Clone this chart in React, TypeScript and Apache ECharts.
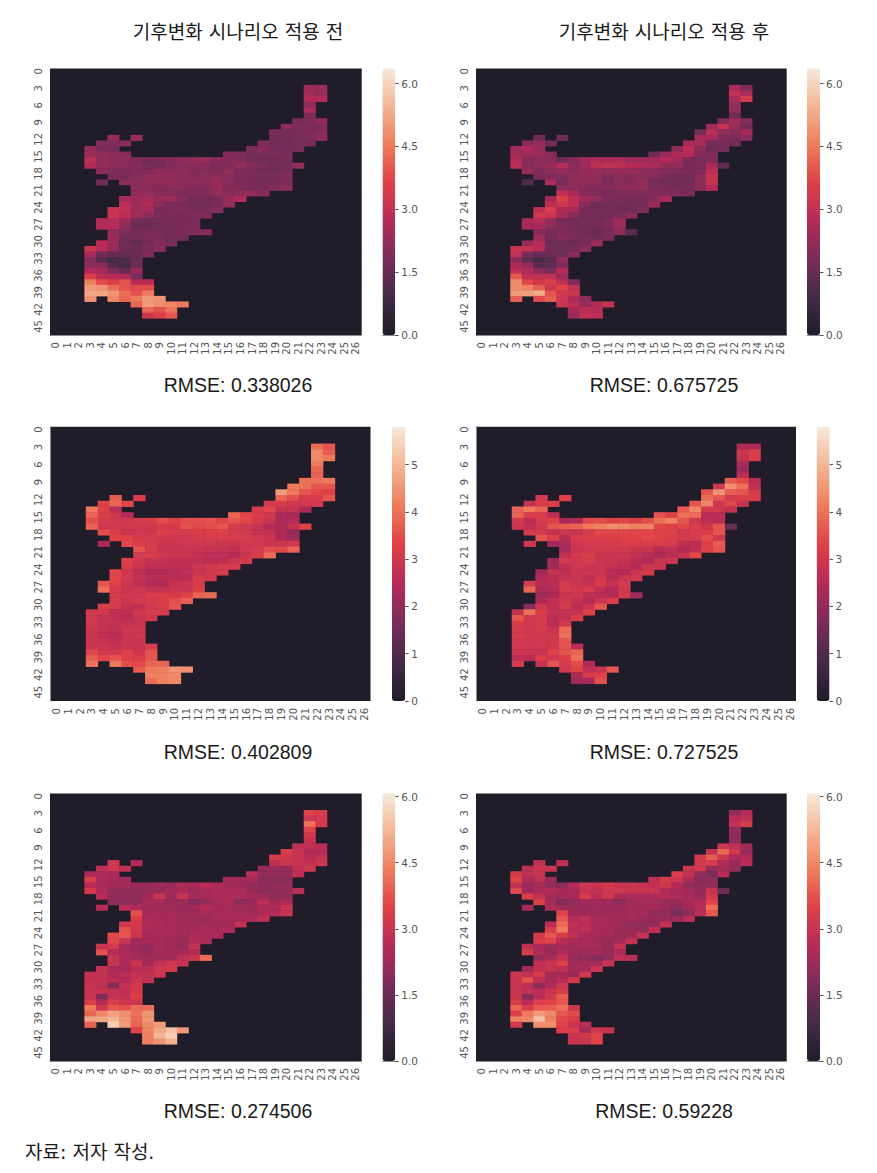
import React, { useEffect, useRef } from "react";
import * as echarts from "echarts";

const X_LABELS = Array.from({ length: 27 }, (_, i) => String(i));
const Y_LABELS = Array.from({ length: 47 }, (_, i) => String(i));
const CELL_ROWS = Array.from({ length: 48 }, (_, i) => String(i));
const FIRST_ROW = 3;

// Column spans of the mapped area for rows 3..44
const ROW_SPANS: number[][][] = [
  [[22, 23]], [[22, 23]], [[22, 23]], [[22, 22]], [[22, 22]], [[22, 22]],
  [[21, 23]], [[20, 23]], [[19, 23]],
  [[5, 5], [7, 7], [19, 23]],
  [[4, 6], [18, 22]],
  [[3, 5], [17, 21]],
  [[3, 6], [15, 20]],
  [[3, 20]], [[3, 21]], [[4, 20]], [[5, 20]],
  [[4, 4], [6, 20]],
  [[7, 20]], [[7, 18]], [[6, 16]], [[6, 15]], [[5, 14]], [[5, 13]], [[4, 12]], [[4, 12]], [[5, 13]], [[5, 11]], [[4, 10]], [[3, 9]], [[3, 8]],
  [[3, 7]], [[3, 7]], [[3, 7]], [[3, 7]],
  [[3, 8]], [[3, 8]], [[3, 8]],
  [[3, 3], [5, 9]],
  [[7, 11]], [[8, 10]], [[8, 10]],
];

const BEFORE_A: number[][] = [
  [2.4,2.3],[2.5,2.3],[2.7,2.7],[2.1],[2.6],[1.9],[1.8,1.9,2.2],[2.1,1.9,1.9,1.9],[1.8,1.7,1.8,1.9,2.0],
  [2.3,2.3,1.6,1.7,1.8,1.9,2.1],[1.9,1.9,2.0,1.9,1.7,1.7,1.8,1.8],[2.2,1.8,1.8,1.9,2.0,1.8,1.8,1.8],
  [2.3,2.2,2.1,2.0,2.0,1.9,1.7,1.8,1.8,1.8],
  [2.9,2.2,2.1,2.1,1.9,1.7,1.8,2.0,2.1,2.2,2.3,2.0,2.0,1.9,1.7,1.7,1.7,1.8],
  [2.7,2.2,2.1,2.0,2.0,1.8,1.8,2.0,2.0,2.0,2.0,1.9,2.0,2.2,2.0,1.8,1.7,1.7,2.2],
  [2.1,1.9,1.8,2.0,1.9,2.1,2.1,2.1,2.0,2.0,1.9,2.2,1.9,1.8,1.7,1.7,1.8],
  [1.8,1.8,2.0,2.2,2.2,2.2,2.1,2.0,2.1,2.2,2.1,1.8,1.8,1.8,1.8,1.9],
  [1.7,2.1,2.1,2.2,2.2,2.3,2.1,2.1,2.1,2.3,2.0,1.9,1.8,1.8,1.8,1.9],
  [2.1,2.0,2.0,2.0,2.1,2.0,2.0,2.3,2.0,1.9,1.8,1.8,1.9,2.1],
  [2.2,2.2,2.0,2.0,1.9,1.9,1.9,2.2,2.1,2.2,2.2,2.0],
  [2.5,2.3,2.5,2.3,2.4,2.0,1.7,1.7,1.8,2.3,2.7],
  [2.9,2.4,2.6,2.1,1.8,1.8,1.7,1.7,1.8,2.2],
  [3.1,3.0,2.4,2.5,1.8,1.8,1.9,1.8,1.8,2.0],
  [3.1,2.9,2.4,2.1,1.8,1.8,1.8,1.9,1.9],
  [2.7,2.8,2.3,1.7,1.7,1.7,1.8,1.8,1.8],
  [2.7,2.8,2.1,1.6,1.6,1.7,1.8,1.8,1.9],
  [2.2,1.9,1.8,1.8,1.8,1.8,1.8,1.9,2.0],
  [2.3,1.7,1.8,1.8,1.8,1.7,1.7],
  [2.8,2.3,1.6,1.4,1.7,2.0,1.8],
  [3.2,2.8,2.3,1.6,1.6,1.8,2.0],
  [2.6,1.6,1.5,1.5,1.6,1.9],
  [2.0,1.3,0.9,1.1,1.5],[2.1,2.1,1.2,1.0,1.6],[2.7,2.5,1.9,1.5,2.3],[3.6,2.9,2.8,2.7,1.8],
  [4.6,3.8,3.6,3.9,2.8,2.8],[5.0,4.9,4.3,3.9,3.8,3.8],[5.2,5.2,4.9,4.3,3.9,4.5],
  [4.9,4.7,4.2,4.5,5.0,4.9],[4.2,5.0,4.8,4.7,4.5],[4.2,3.9,4.4],[3.2,3.6,4.0],
];

const AFTER_A: number[][] = [
  [2.6,1.9],[3.0,2.6],[2.6,3.4],[2.2],[2.2],[1.7],[1.9,2.4,2.0],[2.4,3.1,2.3,1.7],[1.7,2.9,2.2,2.0,2.5],
  [1.6,1.6,2.5,2.5,1.9,1.8,2.0],[2.0,2.2,1.7,2.5,2.6,1.7,1.8,1.7],[2.4,2.6,2.3,2.1,2.9,2.1,1.6,1.7],
  [2.4,2.4,2.4,2.0,1.6,2.3,2.6,2.7,2.0,1.9],
  [2.7,2.0,2.2,2.1,1.6,1.9,2.4,2.6,2.6,2.6,2.4,2.3,2.4,2.7,2.5,1.8,1.8,1.9],
  [2.9,2.0,2.1,2.3,2.8,2.1,2.4,2.9,3.0,2.9,2.7,2.6,2.6,2.2,2.2,1.8,1.8,2.5,1.4],
  [2.3,1.9,2.1,2.3,2.1,2.3,2.3,2.2,2.3,2.3,2.1,2.1,2.0,1.9,1.8,1.9,2.9],
  [1.8,1.9,1.9,2.2,2.2,2.2,1.9,2.1,2.0,2.1,2.0,1.8,1.7,1.7,2.1,3.1],
  [1.1,2.5,1.8,2.2,2.2,2.2,1.9,2.0,2.0,2.2,1.8,1.7,1.6,1.7,2.1,3.1],
  [2.1,2.1,2.0,2.0,2.0,2.1,2.1,2.2,1.8,1.8,1.7,1.7,2.1,2.7],
  [3.0,2.6,2.0,1.9,1.8,1.9,1.9,1.9,2.0,1.9,1.9,1.8],
  [2.4,3.6,2.9,2.4,2.2,1.8,1.8,1.7,1.8,2.0,2.5],
  [2.9,3.3,2.9,2.0,1.7,1.7,1.7,1.7,1.7,2.3],
  [2.9,3.5,2.6,2.5,1.8,1.7,1.7,1.7,1.7,1.9],
  [3.3,3.2,2.5,2.0,1.7,1.7,1.7,1.8,2.1],
  [2.5,2.8,2.2,1.8,1.7,1.7,1.8,1.9,2.4],
  [2.5,2.5,2.1,1.9,1.7,1.7,1.7,1.9,2.4],
  [2.0,1.8,1.9,1.8,1.7,1.6,1.8,2.1,1.3],
  [2.4,1.7,2.0,1.8,1.8,1.7,1.8],
  [2.3,2.8,1.6,1.6,1.6,1.8,2.4],
  [3.1,3.1,2.8,1.7,1.6,1.7,2.1],
  [3.0,1.8,1.5,1.6,1.6,2.1],
  [2.1,1.4,1.0,1.3,2.2],[2.6,2.3,1.3,1.4,1.9],[3.0,2.6,2.1,1.8,2.8],[4.0,3.0,3.0,3.0,2.4],
  [4.8,3.7,3.3,3.6,3.0,1.9],[4.8,4.6,4.1,3.3,3.7,3.0],[5.0,5.1,5.3,3.9,3.3,3.2],
  [4.1,3.8,4.1,3.3,2.6,2.1],[3.2,2.9,2.3,2.7,3.1],[2.5,2.9,2.8],[2.3,3.0,2.9],
];

const BEFORE_B: number[][] = [
  [3.9,3.6],[4.3,3.7],[4.3,4.1],[4.1],[3.8],[3.8],[4.0,4.0,4.1],[4.1,4.0,3.6,3.6],[4.6,4.1,3.6,3.4,3.3],
  [3.7,3.2,3.8,3.5,3.1,3.2,3.6],[3.3,3.8,3.4,3.1,3.1,3.0,3.0,3.0],[4.1,3.3,2.6,3.1,3.4,2.8,2.8,2.4],
  [3.8,3.2,3.0,2.5,3.8,3.4,3.2,3.0,2.4,2.3],
  [3.5,3.1,3.0,3.0,3.1,3.2,3.5,3.3,3.5,3.5,3.6,3.4,3.6,3.4,3.1,2.9,2.4,2.5],
  [3.8,3.0,3.0,3.0,3.0,3.0,3.1,3.1,3.6,3.4,3.5,3.6,3.1,3.0,2.9,2.5,2.4,2.8,3.3],
  [3.5,3.2,2.9,3.0,3.0,3.3,3.1,3.1,3.2,3.2,3.3,3.1,3.0,2.8,2.8,2.4,2.1],
  [3.3,3.3,3.1,3.1,3.0,3.0,3.0,3.1,3.1,3.2,3.1,3.1,3.0,2.9,2.4,2.2],
  [2.3,3.4,3.2,3.1,2.9,2.9,3.0,3.0,3.0,2.9,2.9,3.0,3.0,2.9,2.9,3.0],
  [3.6,3.2,2.9,2.9,2.9,2.9,2.8,2.8,2.7,3.0,3.1,3.5,3.4,3.8],
  [3.1,3.2,3.0,2.9,2.9,2.8,2.7,2.7,2.5,2.9,3.2,3.9],
  [3.3,3.0,2.8,2.8,2.7,2.7,2.7,2.6,2.6,2.9,3.0],
  [3.2,2.9,2.7,2.7,2.7,2.7,2.9,3.0,3.1,3.1],
  [3.4,3.0,2.7,2.5,2.5,2.6,2.7,2.9,3.0,3.1],
  [3.4,3.0,2.8,2.6,2.6,2.6,2.6,3.1,3.0],
  [3.6,3.3,2.9,2.7,2.5,2.4,2.8,2.9,3.1],
  [4.0,3.1,2.9,3.0,2.8,2.8,2.9,2.9,3.3],
  [3.1,3.0,3.0,3.2,3.2,3.1,3.3,3.8,3.9],
  [3.1,2.9,3.1,3.1,3.2,3.5,3.7],
  [3.2,3.1,2.8,2.7,3.0,3.2,3.6],
  [3.0,3.0,2.7,2.7,3.0,3.1,3.1],
  [3.0,2.8,2.7,2.6,2.9,3.0],
  [3.0,2.8,2.8,2.8,2.9],[2.9,2.8,2.7,3.0,3.0],[2.9,2.7,2.6,2.9,3.0],[2.9,2.8,2.7,2.9,2.9],
  [2.9,2.9,2.8,2.9,2.9,3.1],[3.4,3.0,3.0,3.3,3.0,3.6],[3.7,3.4,3.6,3.3,3.2,3.6],
  [4.0,4.1,3.5,3.4,3.8,3.8],[3.7,4.1,4.2,4.5,4.4],[4.2,4.2,4.3],[3.9,4.2,4.3],
];

const AFTER_B: number[][] = [
  [2.4,2.4],[2.9,3.2],[2.8,3.2],[2.4],[2.1],[2.6],[3.7,3.4,2.6],[3.0,4.4,4.0,2.7],[3.6,4.5,3.7,3.6,3.1],
  [3.0,3.3,3.9,3.6,3.1,3.2,3.2],[2.8,3.2,3.2,3.6,4.3,3.0,3.4,2.8],[3.8,4.1,3.8,3.7,4.3,3.1,3.0,2.8],
  [3.8,3.2,3.2,2.7,3.6,3.3,4.0,3.9,2.6,2.6],
  [3.0,2.6,3.1,3.3,2.3,2.4,3.4,3.5,3.3,3.4,3.2,3.5,4.0,4.2,3.6,3.0,2.7,2.6],
  [2.9,2.7,3.0,3.6,3.7,3.8,4.1,4.2,4.4,4.3,4.2,4.2,3.4,3.3,3.4,3.2,2.9,3.6,1.4],
  [3.1,3.1,2.8,2.9,2.8,3.1,3.4,3.4,3.4,3.4,3.4,3.3,3.3,3.0,3.2,3.2,3.6],
  [3.6,3.3,2.6,3.1,3.2,3.2,3.3,3.3,3.3,3.4,3.3,3.2,3.1,3.1,3.5,3.0],
  [3.0,2.2,2.4,3.0,3.1,3.1,3.1,3.2,3.2,3.2,3.2,3.1,2.7,2.6,3.3,3.7],
  [2.3,2.9,3.0,3.0,3.0,3.0,2.9,2.9,2.6,2.7,2.5,2.7,3.3,3.6],
  [2.7,3.0,3.2,2.9,2.9,2.9,2.8,2.6,2.4,2.6,2.8,3.4],
  [2.1,3.1,3.0,3.1,2.9,2.9,2.8,2.6,2.4,2.9,2.9],
  [2.2,2.7,3.0,2.9,2.9,2.8,2.7,2.5,2.9,2.9],
  [2.2,2.8,2.7,2.9,2.9,2.9,2.6,2.5,2.9,3.1],
  [2.5,2.6,2.8,2.9,2.7,3.0,2.6,2.9,3.0],
  [3.1,2.6,2.6,3.1,2.9,2.8,3.2,2.8,3.1],
  [3.8,2.4,2.5,3.1,3.0,3.1,2.7,2.5,3.0],
  [2.2,2.4,2.9,3.0,2.7,2.6,2.5,3.1,2.2],
  [2.4,2.7,3.0,2.8,2.5,2.9,3.2],
  [1.8,3.0,2.7,3.1,2.6,2.9,3.6],
  [2.8,4.0,3.2,2.8,2.8,2.8,3.3],
  [3.6,3.0,3.1,2.6,2.8,3.2],
  [3.2,3.0,3.1,2.6,3.0],[3.1,3.0,3.1,2.9,3.9],[3.1,3.0,3.0,3.0,4.0],[3.0,3.0,3.0,3.0,3.6],
  [3.0,3.0,3.0,3.0,3.6,2.6],[2.9,2.9,2.8,3.3,3.6,3.8],[2.6,2.6,3.2,3.0,3.3,4.0],
  [3.1,2.8,3.6,3.1,3.5,2.4],[3.0,3.3,2.7,2.8,3.6],[2.4,3.1,3.3],[2.2,2.3,3.5],
];

const BEFORE_C: number[][] = [
  [3.5,3.3],[3.1,3.2],[4.2,3.3],[3.5],[3.2],[2.9],[2.8,2.8,2.7],[3.3,3.0,2.6,2.6],[3.3,3.2,3.0,2.7,2.9],
  [3.1,2.6,2.8,3.1,3.0,2.9,3.1],[2.8,3.1,2.8,2.1,2.2,2.1,2.8,3.1],[2.5,2.5,2.4,2.7,2.1,2.1,2.1,2.8],
  [3.4,2.5,2.4,2.3,2.4,2.3,2.4,2.0,2.0,2.0],
  [2.7,2.4,2.3,2.3,2.2,2.2,2.3,2.2,2.5,2.4,2.7,2.5,2.3,2.3,2.1,2.0,2.1,2.1],
  [3.2,2.5,2.1,2.1,2.1,2.2,2.2,2.3,2.5,2.3,2.4,2.5,2.4,2.5,2.2,2.0,2.0,2.1,2.7],
  [2.7,2.1,2.1,2.1,2.3,3.0,2.3,3.0,2.3,2.4,2.5,2.5,2.5,2.4,2.3,2.1,2.1],
  [2.0,2.0,2.0,2.4,2.4,2.2,2.2,1.9,2.2,2.4,2.5,2.0,2.2,2.7,2.3,2.5],
  [2.6,2.7,2.5,2.4,2.3,2.3,2.2,2.3,2.6,2.4,2.4,2.3,2.3,2.5,2.5,3.0],
  [3.7,2.4,2.4,2.4,2.3,2.3,2.4,2.4,2.4,2.4,2.3,2.6,2.6,3.0],
  [3.4,2.5,2.4,2.4,2.3,2.3,2.2,2.4,2.4,2.4,2.5,2.8],
  [3.1,3.2,2.5,2.5,2.4,2.3,2.3,2.3,2.3,2.3,2.9],
  [3.7,3.1,2.5,2.4,2.4,2.4,2.4,2.4,2.4,2.5],
  [3.6,3.8,3.0,2.4,2.4,2.4,2.3,2.5,2.4,2.4],
  [3.6,3.0,2.3,2.4,2.4,2.3,2.2,2.6,2.4],
  [3.0,3.2,2.5,2.2,2.1,2.4,2.3,2.2,2.9],
  [3.7,2.6,2.5,2.3,2.2,2.4,2.4,2.4,2.6],
  [3.0,2.5,2.4,2.3,2.3,2.3,2.8,3.0,4.1],
  [3.0,2.5,3.0,2.4,2.8,3.1,2.9],
  [2.9,2.5,2.4,2.7,2.7,3.1,3.2],
  [2.9,2.9,2.6,2.7,2.9,2.9,3.1],
  [2.9,2.9,2.7,2.6,3.0,2.9],
  [3.0,2.8,1.9,2.9,3.2],[3.0,3.0,2.9,2.8,3.2],[3.0,1.8,2.9,2.9,3.4],[3.4,2.6,3.4,3.1,3.1],
  [4.3,3.1,3.8,3.7,4.1,4.1],[4.0,4.5,4.9,4.6,4.2,4.7],[4.9,5.0,5.2,4.7,4.1,4.7],
  [4.0,5.6,4.8,4.0,4.5,4.8],[3.5,4.4,5.0,5.4,4.8],[4.4,5.2,5.6],[4.4,4.7,5.2],
];

const AFTER_C: number[][] = [
  [2.1,2.6],[2.7,2.8],[2.9,3.3],[2.1],[2.0],[2.0],[3.1,2.8,2.3],[2.9,4.0,3.2,2.2],[3.2,3.9,3.1,2.5,2.6],
  [2.9,2.8,3.2,3.3,2.6,2.2,2.7],[2.8,3.0,3.0,3.0,3.2,2.1,2.4,2.1],[3.2,2.8,3.0,3.4,2.9,2.1,1.8,2.6],
  [3.5,2.5,2.8,2.2,2.8,3.3,3.1,2.5,1.9,2.0],
  [2.9,2.2,2.4,2.1,2.0,2.6,3.1,3.0,3.2,3.0,3.0,2.9,2.9,3.1,2.6,2.1,2.0,2.1],
  [3.6,2.3,2.5,2.6,2.4,2.4,3.0,2.9,3.1,3.1,3.0,3.0,3.0,2.6,2.4,2.3,2.1,3.0,1.5],
  [3.4,2.9,2.3,2.3,2.4,3.3,2.7,3.1,2.5,2.5,2.5,2.5,2.6,2.5,2.4,2.2,3.2],
  [3.4,2.4,1.9,2.1,2.3,2.3,2.3,2.0,2.3,2.4,2.4,2.2,2.2,2.4,2.6,3.5],
  [2.3,2.5,2.3,2.2,2.2,2.3,2.2,2.3,2.4,2.4,2.4,2.2,2.0,2.3,2.6,4.1],
  [3.5,2.3,2.3,2.3,2.3,2.3,2.4,2.4,2.1,2.1,1.7,2.0,2.7,3.8],
  [3.8,2.6,2.8,2.4,2.4,2.3,2.4,2.2,2.2,2.2,2.2,2.7],
  [2.7,4.1,2.8,2.7,2.5,2.4,2.3,2.1,2.1,2.2,2.9],
  [3.3,4.3,2.7,2.8,2.4,2.4,2.2,2.2,2.1,2.8],
  [3.2,3.8,3.3,2.8,2.5,2.4,2.3,2.2,2.3,2.9],
  [3.4,3.5,2.7,2.5,2.4,2.3,2.2,2.4,2.9],
  [2.8,2.5,2.3,2.4,2.3,2.4,2.4,2.2,2.9],
  [3.3,2.5,2.2,2.6,2.3,2.3,2.3,2.2,2.5],
  [2.1,2.5,2.9,2.2,2.1,1.9,2.1,2.8,2.7],
  [2.8,3.0,3.4,2.3,2.3,2.4,3.0],
  [2.3,2.9,3.0,2.8,2.3,2.4,3.0],
  [3.1,2.9,3.3,2.4,2.4,2.2,3.2],
  [3.0,3.7,2.9,2.4,2.6,3.2],
  [3.0,2.8,2.0,2.5,3.1],[3.0,2.9,2.7,3.0,3.3],[3.0,1.9,2.7,3.2,3.9],[3.3,2.7,3.4,3.5,3.8],
  [4.0,3.3,3.8,3.9,4.2,3.1],[3.4,4.3,4.8,4.5,3.8,3.6],[4.4,4.5,5.4,4.4,3.6,3.4],
  [3.2,4.6,4.6,3.5,3.0,2.7],[3.4,3.3,2.4,3.1,3.0],[3.0,3.2,3.5],[3.0,3.0,3.5],
];

const PANEL_VALUES = [BEFORE_A, AFTER_A, BEFORE_B, AFTER_B, BEFORE_C, AFTER_C];
const COLORBAR_MAX = [6.36, 6.36, 5.8, 5.8, 6.07, 6.07];
const COLORBAR_STEP = [1.5, 1.5, 1, 1, 1.5, 1.5];
const RMSE_LABELS = ["RMSE: 0.338026", "RMSE: 0.675725", "RMSE: 0.402809", "RMSE: 0.727525", "RMSE: 0.274506", "RMSE: 0.59228"];
const COLUMN_TITLES = ["기후변화 시나리오 적용 전", "기후변화 시나리오 적용 후"];
const SOURCE_NOTE = "자료: 저자 작성.";

const ROCKET = ["#201c2a", "#442b46", "#7a2c5a", "#b42b58", "#df4048", "#ee7d5c", "#f3b593", "#f8eadc"];
const BASE = "#201c2a";
const AXIS_GRAY = "#8c8c90";
const LABEL = "#555555";
const TICK_FONT = "DejaVu Sans";
const TITLE_FONT = "'DejaVu Sans', 'Noto Sans CJK KR', sans-serif";
const RMSE_FONT = "'Liberation Sans', sans-serif";

// Layout: heat left/width/top/height, colour bar left/width
const LAYOUT = [
  { l: 50, w: 311.7, t: 68.5, h: 266.5, cl: 382.5, cw: 12.7, tx: 238, ry: 385, line: "bottom" },
  { l: 476, w: 310.7, t: 68.5, h: 266.5, cl: 807, cw: 13, tx: 664, ry: 385, line: "bottom" },
  { l: 50.5, w: 320, t: 426.7, h: 274.3, cl: 392, cw: 13.2, tx: 238, ry: 752, line: "left" },
  { l: 476.5, w: 319.5, t: 426.7, h: 274.3, cl: 816.7, cw: 12.8, tx: 664, ry: 752, line: "left" },
  { l: 50, w: 311.7, t: 793.5, h: 267.5, cl: 382.5, cw: 12.7, tx: 238, ry: 1111, line: "bottom" },
  { l: 476, w: 310.7, t: 793.5, h: 267.5, cl: 807, cw: 13, tx: 664, ry: 1111, line: "bottom" },
];

function cells(rows: number[][]) {
  const out: number[][] = [];
  rows.forEach((values, i) => {
    let n = 0;
    ROW_SPANS[i].forEach(([a, b]) => {
      for (let c = a; c <= b; c++) out.push([c, i + FIRST_ROW, values[n++]]);
    });
  });
  return out;
}

function buildOption() {
  const grid: any[] = [];
  const xAxis: any[] = [];
  const yAxis: any[] = [];
  const series: any[] = [];
  const visualMap: any[] = [];
  const graphic: any[] = [];

  LAYOUT.forEach((p, i) => {
    const heatGrid = grid.length;
    grid.push({ left: p.l, top: p.t, width: p.w, height: p.h, show: true, backgroundColor: BASE, borderWidth: 0, containLabel: false });
    xAxis.push({
      gridIndex: heatGrid, type: "category", data: X_LABELS, position: "bottom",
      axisLine: { show: p.line === "bottom", lineStyle: { color: AXIS_GRAY, width: 1 } }, axisTick: { show: false }, splitLine: { show: false },
      axisLabel: { interval: 0, rotate: 90, fontSize: 10, margin: 7, color: LABEL, fontFamily: TICK_FONT },
    });
    const cellAxis = yAxis.length;
    yAxis.push({
      gridIndex: heatGrid, type: "category", data: CELL_ROWS, inverse: true, position: "left",
      axisLine: { show: false }, axisTick: { show: false }, axisLabel: { show: false }, splitLine: { show: false },
    });
    yAxis.push({
      gridIndex: heatGrid, type: "category", data: Y_LABELS, inverse: true, position: "left",
      axisLine: { show: p.line === "left", onZero: false, lineStyle: { color: AXIS_GRAY, width: 1 } }, axisTick: { show: false }, splitLine: { show: false },
      axisLabel: { interval: 2, rotate: 90, fontSize: 10, margin: 7, color: LABEL, fontFamily: TICK_FONT },
    });
    series.push({
      type: "heatmap", xAxisIndex: heatGrid, yAxisIndex: cellAxis, data: cells(PANEL_VALUES[i]),
      silent: true, progressive: 0, emphasis: { disabled: true }, itemStyle: { borderWidth: 0 }, label: { show: false },
    });
    visualMap.push({
      type: "continuous", seriesIndex: i, min: 0, max: COLORBAR_MAX[i], calculable: false, realtime: false, hoverLink: false,
      left: p.cl, top: p.t, itemWidth: p.cw, itemHeight: p.h, padding: 0, showLabel: false, text: null, borderWidth: 0,
      inRange: { color: ROCKET },
    });

    const barGrid = grid.length;
    grid.push({ left: p.cl, top: p.t, width: p.cw, height: p.h, show: false, containLabel: false });
    xAxis.push({
      gridIndex: barGrid, type: "category", data: ["bar"], position: "bottom",
      axisLine: { show: p.line === "bottom", lineStyle: { color: AXIS_GRAY } }, axisTick: { show: false }, axisLabel: { show: false }, splitLine: { show: false },
    });
    yAxis.push({
      gridIndex: barGrid, type: "value", min: 0, max: COLORBAR_MAX[i], interval: COLORBAR_STEP[i], position: "right",
      axisLine: { show: false }, splitLine: { show: false },
      axisTick: { show: true, length: 3.5, lineStyle: { color: "#555" } },
      axisLabel: {
        show: true, fontSize: 10.5, margin: 6, color: LABEL, fontFamily: TICK_FONT, showMaxLabel: false,
        formatter: (v: number) => (COLORBAR_STEP[i] === 1 ? String(v) : v.toFixed(1)),
      },
    });

    graphic.push({
      type: "text", x: p.tx, y: p.ry,
      style: { text: RMSE_LABELS[i], fontFamily: RMSE_FONT, fontSize: 19.5, fill: "#1a1a1a", align: "center", verticalAlign: "middle" },
    });
  });

  COLUMN_TITLES.forEach((text, i) => {
    graphic.push({
      type: "text", x: i === 0 ? 238 : 664, y: 32,
      style: { text, fontFamily: TITLE_FONT, fontSize: 19, fill: "#1a1a1a", align: "center", verticalAlign: "middle" },
    });
  });
  graphic.push({
    type: "text", x: 25, y: 1152,
    style: { text: SOURCE_NOTE, fontFamily: TITLE_FONT, fontSize: 19, fill: "#1a1a1a", align: "left", verticalAlign: "middle" },
  });

  return { animation: false, backgroundColor: "#ffffff", grid, xAxis, yAxis, series, visualMap, graphic };
}

export default function App() {
  const ref = useRef<HTMLDivElement>(null);
  useEffect(() => {
    document.body.style.margin = "0";
    const chart = echarts.init(ref.current as HTMLDivElement, undefined, { renderer: "svg" });
    chart.setOption(buildOption() as any);
    return () => chart.dispose();
  }, []);
  return <div ref={ref} style={{ width: 877, height: 1173 }} />;
}
